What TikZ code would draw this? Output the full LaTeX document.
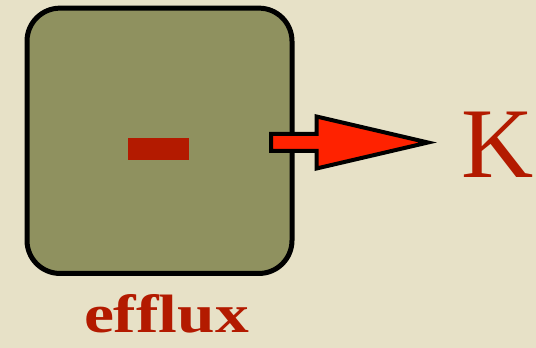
\documentclass[tikz,border=0pt]{standalone}
\usepackage{fontspec}
\setmainfont{Liberation Serif}
\usetikzlibrary{calc}
\definecolor{bg}{HTML}{E7E1C7}
\definecolor{olive}{HTML}{8F915F}
\definecolor{darkred}{HTML}{B31A00}
\definecolor{arrowred}{HTML}{FF2200}
\tikzset{
  x=1pt,y=1pt,
  boxstyle/.style={draw=black, fill=olive, line width=5pt, rounded corners=33pt,
    minimum width=265pt, minimum height=265.3pt, inner sep=0pt},
  minusstyle/.style={fill=darkred, minimum width=61pt, minimum height=22pt, inner sep=0pt},
  arrowstyle/.style={draw=black, fill=arrowred, line width=4pt, line join=miter},
  labelstyle/.style={text=darkred, inner sep=0pt, anchor=base}
}
\begin{document}
\begin{tikzpicture}
\fill[bg] (0,0) rectangle (536,348);
\useasboundingbox (0,0) rectangle (536,348);
\node[boxstyle] (box) at (159.5,207.2) {};
\node[minusstyle] (minus) at (158,199) {};
\coordinate (tail) at ($(box.east)+(-23.3,-1.7)$);
\coordinate (tip) at (428,205.5);
\draw[arrowstyle] ($(tail)+(0,8.5)$) -- ($(tail)+(45.3,8.5)$) -- ($(tail)+(45.3,26)$)
  -- (tip) -- ($(tail)+(45.3,-26)$) -- ($(tail)+(45.3,-8.5)$) -- ($(tail)+(0,-8.5)$) -- cycle;
\node[labelstyle, font=\fontsize{100}{100}\selectfont] (K) at (497.5,170) {K};
\node[labelstyle] (efflux) at (166.5,15) {\scalebox{1.25}[1]{\fontsize{54}{54}\selectfont\bfseries efflux}};
\end{tikzpicture}
\end{document}
